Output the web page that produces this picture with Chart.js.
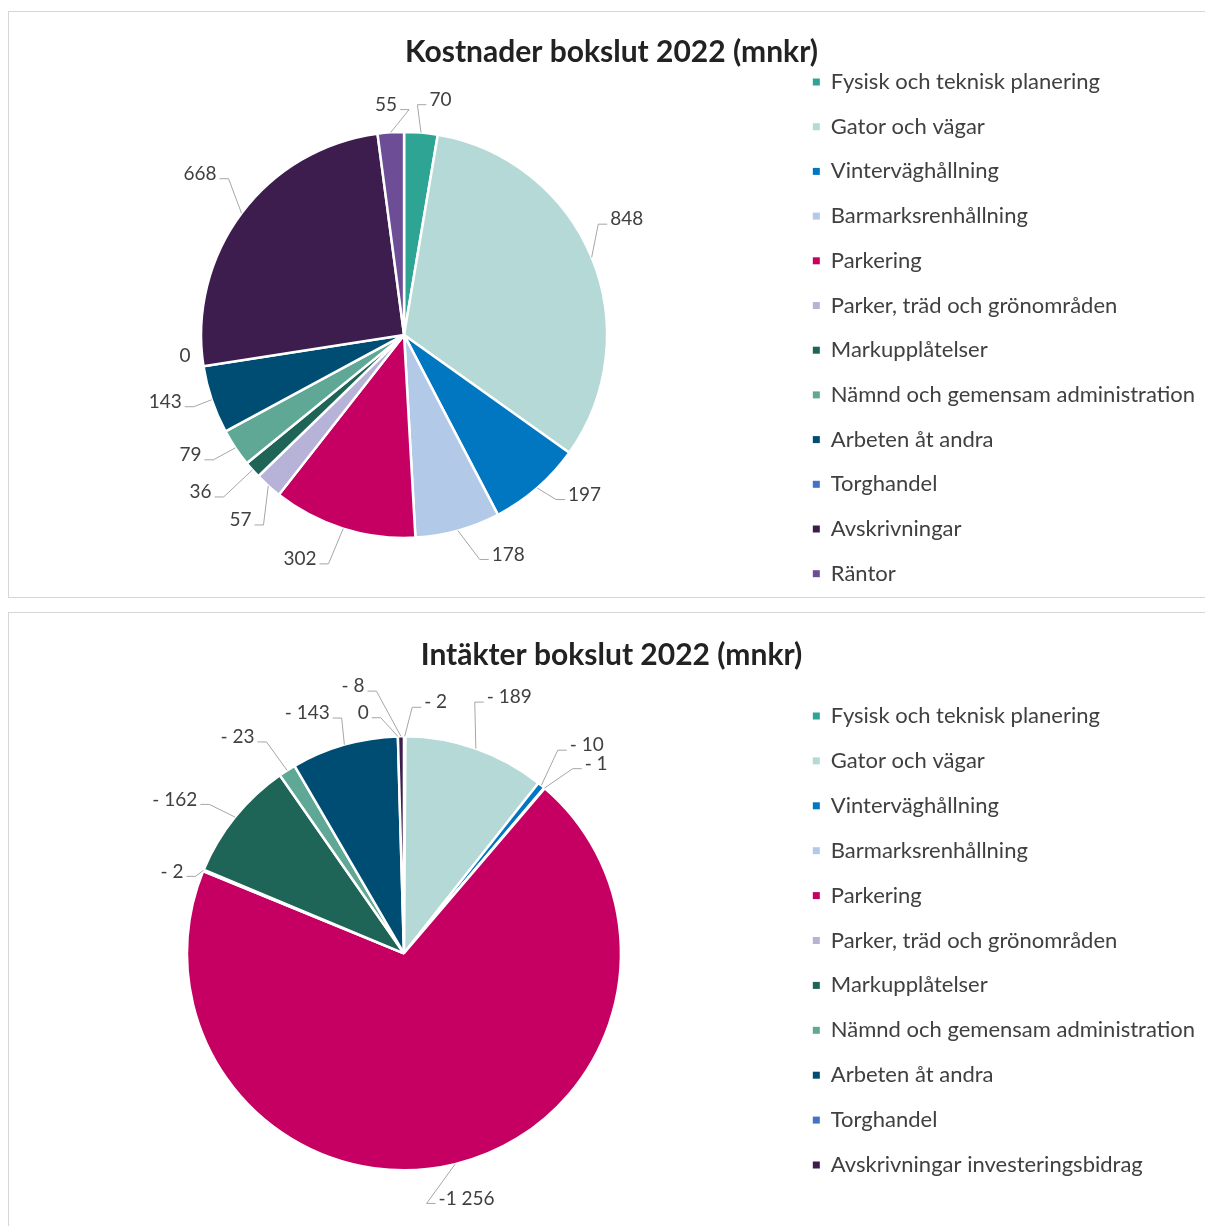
<!DOCTYPE html>
<html lang="sv">
<head>
<meta charset="utf-8">
<title>Bokslut 2022</title>
<script src="https://cdn.jsdelivr.net/npm/chart.js@4.4.1/dist/chart.umd.min.js"></script>
<style>
  html, body { margin: 0; padding: 0; background: #fff; overflow: hidden; }
  body { width: 1205px; height: 1226px; position: relative; }
  .panel { position: absolute; left: 8px; width: 1210px; border: 1px solid #d6d6d6; overflow: hidden; background: #fff; }
  #panelCost { top: 11px; height: 585px; }
  #panelIncome { top: 612px; height: 640px; }
  canvas { display: block; }
</style>
</head>
<body>
<div class="panel" id="panelCost"><canvas id="costChart" width="1196" height="611"></canvas></div>
<div class="panel" id="panelIncome"><canvas id="incomeChart" width="1196" height="613"></canvas></div>

<script>
// Kostnader (costs), mnkr
const costLabels = [
  'Fysisk och teknisk planering', 'Gator och vägar', 'Vinterväghållning', 'Barmarksrenhållning',
  'Parkering', 'Parker, träd och grönområden', 'Markupplåtelser', 'Nämnd och gemensam administration',
  'Arbeten åt andra', 'Torghandel', 'Avskrivningar', 'Räntor'
];
const costValues = [70, 848, 197, 178, 302, 57, 36, 79, 143, 0, 668, 55];

// Intäkter (income), mnkr
const incomeLabels = [
  'Fysisk och teknisk planering', 'Gator och vägar', 'Vinterväghållning', 'Barmarksrenhållning',
  'Parkering', 'Parker, träd och grönområden', 'Markupplåtelser', 'Nämnd och gemensam administration',
  'Arbeten åt andra', 'Torghandel', 'Avskrivningar investeringsbidrag'
];
const incomeValues = [-2, -189, -10, -1, -1256, -2, -162, -23, -143, 0, -8];

// same colour per category in both charts
const sliceColors = [
  '#2ea495', '#b4d9d6', '#0077c0', '#b3c9e8', '#c50062', '#b7b2d8',
  '#1e6457', '#5fa896', '#004d74', '#4472c4', '#3c1d4e', '#6d4d96'
];

// label placement: [angle shift in degrees, distance outside the pie in px]
const costLabelPlacement = [
  [4, 35], [-5, 48], [-7.5, 38], [-10, 40], [7.5, 44], [-0.5, 44],
  [4, 54], [4.5, 42], [3, 45], [3.5, 17], [1.5, 57], [-0.7, 28]
];
const incomeLabelPlacement = [
  [7, 36], [3, 60], [2, 60], [5, 53], [-0.7, 36], [-3, 29],
  [-5, 59], [-5, 56], [-6, 42], [-8, 27], [-10, 55]
];

const FONT = 'Lato, "Open Sans", sans-serif';

// Excel style number: "- 189", "-1 256"
function formatMnkr(v) {
  const s = String(Math.abs(v)).replace(/\B(?=(\d{3})+(?!\d))/g, ' ');
  if (v < 0) return Math.abs(v) >= 1000 ? '-' + s : '- ' + s;
  return s;
}

// data labels with leader lines, positioned from each arc
const leaderLabels = {
  id: 'leaderLabels',
  afterDatasetsDraw(chart, args, opts) {
    const { ctx } = chart;
    const meta = chart.getDatasetMeta(0);
    const values = chart.data.datasets[0].data;
    ctx.save();
    ctx.font = '19px ' + FONT;
    ctx.textAlign = 'center';
    ctx.textBaseline = 'middle';
    meta.data.forEach((arc, i) => {
      const { x, y, startAngle, endAngle, outerRadius } =
        arc.getProps(['x', 'y', 'startAngle', 'endAngle', 'outerRadius'], true);
      const mid = (startAngle + endAngle) / 2;
      const [shift, extra] = opts.placement[i];
      const a = mid + shift * Math.PI / 180;
      const lx = x + (outerRadius + extra) * Math.cos(a);
      const ly = y + (outerRadius + extra) * Math.sin(a);
      const text = formatMnkr(values[i]);
      const w = ctx.measureText(text).width;

      if (extra > 20) {
        const ex = x + outerRadius * Math.cos(mid);
        const ey = y + outerRadius * Math.sin(mid);
        const dir = lx >= ex ? -1 : 1;
        const ax = lx + dir * (w / 2 + 3);
        const ay = ly + 5;
        ctx.beginPath();
        ctx.moveTo(ex, ey);
        ctx.lineTo(ax + dir * 9, ay);
        ctx.lineTo(ax, ay);
        ctx.strokeStyle = '#a6a6a6';
        ctx.lineWidth = 1;
        ctx.stroke();
      }
      ctx.fillStyle = '#404040';
      ctx.fillText(text, lx, ly);
    });
    ctx.restore();
  }
};

function buildPie(canvasId, title, labels, values, placement, cfg) {
  return new Chart(document.getElementById(canvasId), {
    type: 'pie',
    data: {
      labels: labels,
      datasets: [{
        data: values,
        backgroundColor: sliceColors.slice(0, labels.length),
        borderColor: '#ffffff',
        borderWidth: 2.5,
        radius: cfg.radius
      }]
    },
    options: {
      responsive: false,
      animation: false,
      layout: { padding: { left: 9, right: 0, top: 0, bottom: 0 } },
      plugins: {
        title: {
          display: true,
          text: title,
          color: '#222222',
          font: { family: FONT, size: 30, weight: 'bold', lineHeight: 1.2 },
          padding: cfg.titlePadding
        },
        legend: {
          position: 'right',
          align: 'start',
          // empty legend title only pushes the items down
          title: { display: true, text: '', font: { size: 10, lineHeight: 1 }, padding: { top: cfg.legendOffset, bottom: 0 } },
          labels: {
            font: { family: FONT, size: 22 },
            color: '#404040',
            boxWidth: 7,
            boxHeight: 7,
            padding: cfg.legendPadding,
            generateLabels(chart) {
              const items = Chart.overrides.doughnut.plugins.legend.labels.generateLabels(chart);
              return items.map(item => ({ ...item, lineWidth: 0, strokeStyle: item.fillStyle }));
            }
          }
        },
        tooltip: { enabled: false },
        leaderLabels: { placement: placement }
      }
    },
    plugins: [leaderLabels]
  });
}

buildPie('costChart', 'Kostnader bokslut 2022 (mnkr)', costLabels, costValues, costLabelPlacement, {
  radius: 203,
  titlePadding: { top: 22, bottom: -23.2 },
  legendPadding: 22.7,
  legendOffset: 26.3
});

buildPie('incomeChart', 'Intäkter bokslut 2022 (mnkr)', incomeLabels, incomeValues, incomeLabelPlacement, {
  radius: 217,
  titlePadding: { top: 24, bottom: 7.6 },
  legendPadding: 22.9,
  legendOffset: 59.1
});
</script>
</body>
</html>
